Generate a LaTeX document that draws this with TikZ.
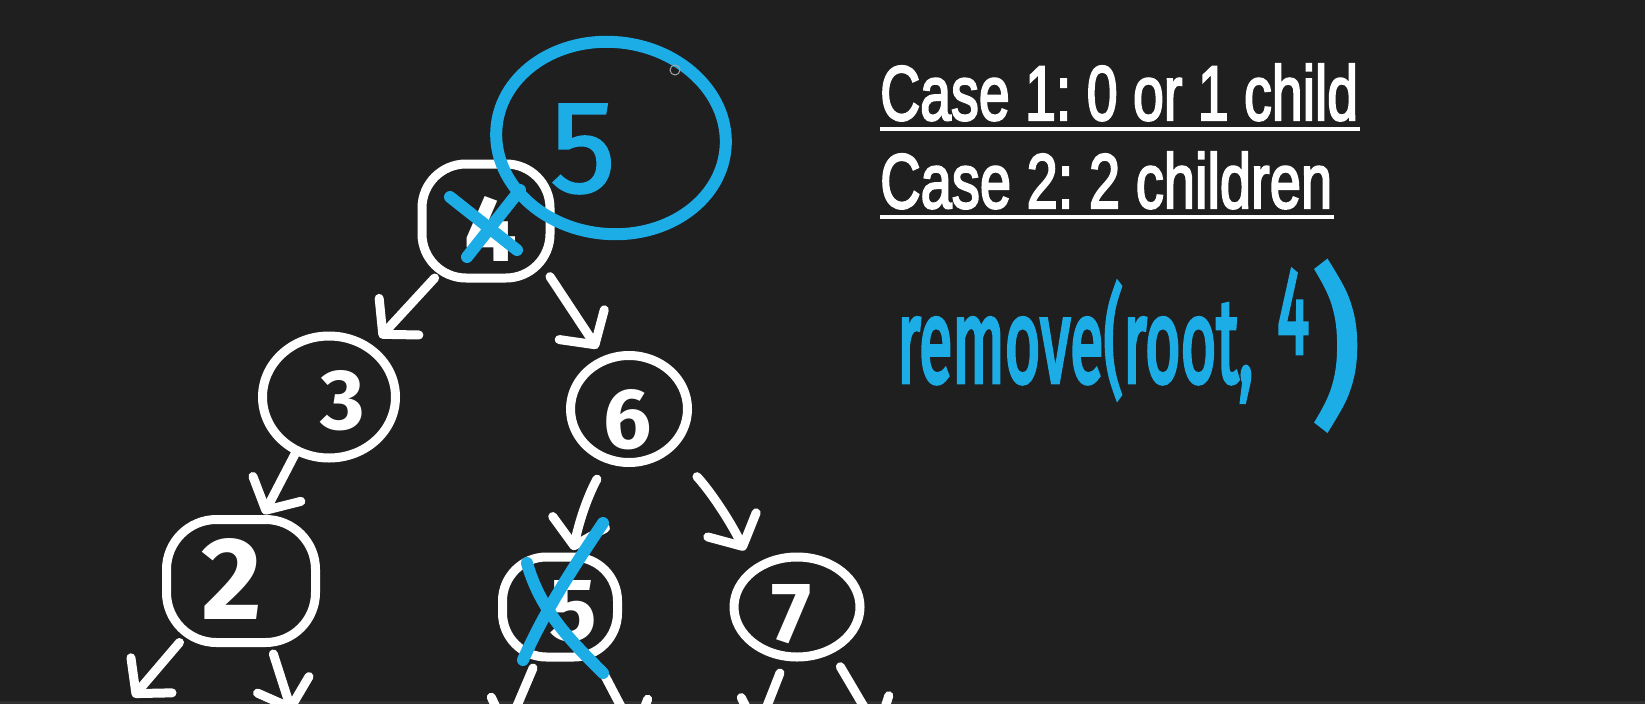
\documentclass[tikz,border=0pt]{standalone}
\usepackage{graphicx}
\usepackage{fontspec}
\setmainfont{Liberation Sans}
\newfontfamily\headfont{Liberation Sans}[FakeBold=3]
\newfontfamily\hand{Fira Sans}
\newfontfamily\handm{Fira Sans}[FakeBold=1.5]
\newfontfamily\handb{Fira Sans}[FakeBold=4]
\usetikzlibrary{arrows.meta,shapes.geometric}
\definecolor{bg}{RGB}{31,31,31}
\definecolor{pen}{RGB}{28,172,230}
\frenchspacing
\begin{document}
\begin{tikzpicture}[x=1pt,y=-1pt,
  wn/.style={draw=white, line width=9pt, inner sep=0pt, outer sep=0pt},
  rr/.style={wn, rectangle, rounded corners=44pt},
  el/.style={wn, ellipse},
  arr/.style={draw=white, line width=9pt, line cap=round, line join=round, -{Straight Barb[round, length=24pt, width=54pt]}},
  bx/.style={draw=pen, line width=12pt, line cap=round, line join=round},
  dig/.style={inner sep=0pt, text=white, font=\hand\bfseries},
  bdig/.style={inner sep=0pt, text=pen, font=\handm},
  head/.style={anchor=base west, inner sep=0pt, text=white, font=\headfont},
  hw/.style={inner sep=0pt, text=pen, font=\handb}]
\path[use as bounding box, fill=bg] (0,0) rectangle (1645,704);
\clip (0,0) rectangle (1645,704);

% tree nodes
\node[rr, minimum width=128pt, minimum height=114pt] (n4) at (486,221) {};
\node[el, minimum width=133pt, minimum height=122pt] (n3) at (329,397) {};
\node[rr, rounded corners=50pt, minimum width=149pt, minimum height=123pt] (n2) at (241,581) {};
\node[el, minimum width=117pt, minimum height=107pt] (n6) at (629,409) {};
\node[rr, minimum width=115pt, minimum height=100pt] (n5) at (560,607) {};
\node[el, minimum width=126pt, minimum height=100pt] (n7) at (797,607) {};

% digits
\node[dig] (t4) at (491,229) {\resizebox{!}{65pt}{4}};
\node[dig] (t3) at (343,401) {\resizebox{!}{59pt}{3}};
\node[dig] (t2) at (232,579) {\resizebox{!}{81pt}{2}};
\node[dig] (t6) at (628,420) {\resizebox{!}{59pt}{6}};
\node[dig] (t5) at (573,611) {\resizebox{!}{60pt}{5}};
\node[dig] (t7) at (792,614) {\resizebox{!}{58pt}{7}};

% connectors
\draw[arr, shorten >=15pt] (n4.228) -- (n3.50);
\draw[arr, shorten >=14pt] (n4.319) -- (n6.116);
\draw[arr, shorten >=6pt] (n3.239) -- (n2.72);
\draw[arr, shorten <=23pt, shorten >=7pt] (n6.247) to[bend right=8] (n5.77);
\draw[arr, shorten <=40pt, shorten >=22pt] (n6.317) to[bend left=8] (n7.139);

\coordinate (c2l) at (133,697);
\coordinate (c2r) at (292,712);
\coordinate (c5l) at (505,734);
\coordinate (c5r) at (637,737);
\coordinate (c7l) at (756,734);
\coordinate (c7r) at (880,734);
\draw[arr] (n2.225) -- (c2l);
\draw[arr, shorten <=12pt] (n2.295) -- (c2r);
\draw[arr, shorten <=12pt] (n5.246) -- (c5l);
\draw[arr, shorten <=14pt] (n5.305) -- (c5r);
\draw[arr, shorten <=18pt] (n7.258) -- (c7l);
\draw[arr, shorten <=20pt] (n7.308) -- (c7r);

% blue annotations
\node[draw=pen, line width=12pt, ellipse, inner sep=0pt, minimum width=230pt, minimum height=192pt, rotate=-6] (cir) at (611,138) {};
\node[bdig] (b5) at (583,149) {\resizebox{!}{88pt}{5}};
\draw[bx] (450,197) -- (517,250);
\draw[bx] (520,190) -- (467,257);
\draw[bx] (527,563) .. controls (540,610) and (570,640) .. (603,673);
\draw[bx] (603,523) .. controls (575,565) and (545,610) .. (523,660);
\draw[gray!70, line width=1pt] (675,70) circle (5pt);

% headings
\node[head] (case1) at (880,120) {\resizebox{478pt}{56pt}{Case 1: 0 or 1 child}};
\node[head] (case2) at (880,208) {\resizebox{452pt}{56pt}{Case 2: 2 children}};
\draw[white, line width=3.5pt] (880,129) -- (1360,129);
\draw[white, line width=3.5pt] (880,217) -- (1334,217);

% handwritten call
\node[hw, anchor=base west] (rm) at (897,382) {\resizebox{356pt}{100pt}{remove(root,}};
\node[hw, anchor=base west] (r4) at (1277,353) {\resizebox{32pt}{83pt}{4}};
\node[hw, anchor=north west] (rp) at (1312,263) {\resizebox*{48pt}{165pt}{)}};

\fill[white, opacity=0.08] (0,701) rectangle (1645,704);
\end{tikzpicture}
\end{document}
